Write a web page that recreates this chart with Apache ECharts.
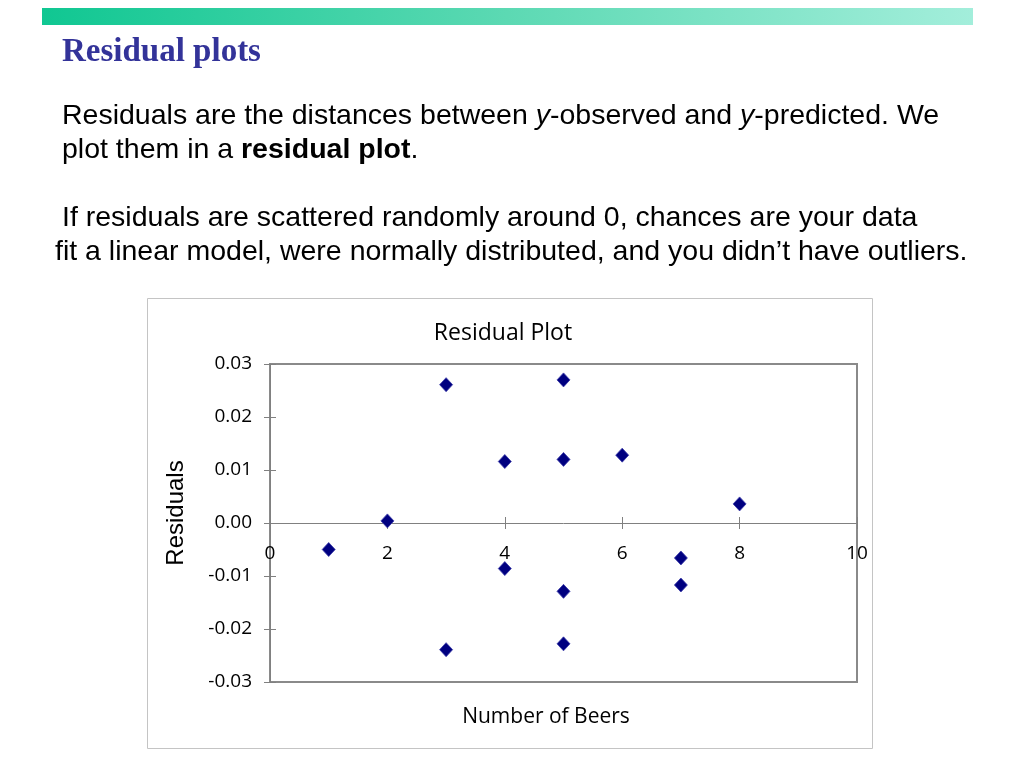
<!DOCTYPE html>
<html><head><meta charset="utf-8">
<script src="https://cdn.jsdelivr.net/npm/echarts@6/dist/echarts.min.js"></script>
<style>html,body{margin:0;padding:0;background:#fff}#c{width:1024px;height:768px}</style>
</head><body><div id="c"></div>
<script>
// Data
const beers = [1, 2, 3, 3, 4, 4, 5, 5, 5, 5, 6, 7, 7, 8];
const residuals = [-0.0050, 0.0004, 0.0261, -0.0239, 0.0116, -0.0086, 0.0270, 0.0120, -0.0129, -0.0228, 0.0128, -0.0066, -0.0117, 0.0036];
const xRange = [0, 10, 2];      // min, max, interval
const yRange = [-0.03, 0.03, 0.01];

const slideTitle = 'Residual plots';
const chartTitle = 'Residual Plot';
const xName = 'Number of Beers';
const yName = 'Residuals';

const points = beers.map((b, i) => [b, residuals[i]]);

const chart = echarts.init(document.getElementById('c'), null, {renderer: 'canvas'});
const bodyFont = 'Liberation Sans, Arial, sans-serif';
const axisFont = 'Open Sans, sans-serif';
const gray = '#808080';
const bodySize = 28.5;

// plot area layout (pixels)
const G = {left: 270, right: 167, top: 364, bottom: 86};
const plotH = 768 - G.top - G.bottom;
const plotW = 1024 - G.left - G.right;
const zeroShift = -plotH * (0 - yRange[0]) / (yRange[1] - yRange[0]); // move bottom axis up to y = 0

const option = {
  animation: false,
  backgroundColor: '#fff',
  grid: Object.assign({show: true, borderColor: '#8a8a8a', borderWidth: 2, backgroundColor: 'transparent'}, G),
  xAxis: [
    {
      type: 'value', position: 'bottom', offset: zeroShift, min: xRange[0], max: xRange[1], interval: xRange[2],
      axisLine: {show: true, onZero: false, lineStyle: {color: gray, width: 1}},
      axisTick: {show: true, inside: false, length: 6, lineStyle: {color: gray}},
      axisLabel: {show: true, margin: 21, color: '#000', fontFamily: axisFont, fontSize: 19},
      splitLine: {show: false}
    },
    {
      type: 'value', position: 'top', offset: -(plotH + zeroShift), min: xRange[0], max: xRange[1], interval: xRange[2],
      axisLine: {show: false, onZero: false},
      axisTick: {show: true, inside: false, length: 6, lineStyle: {color: gray}},
      axisLabel: {show: false},
      splitLine: {show: false}
    }
  ],
  yAxis: [
    {
      type: 'value', position: 'left', min: yRange[0], max: yRange[1], interval: yRange[2],
      axisLine: {show: true, onZero: false, lineStyle: {color: gray, width: 1}},
      axisTick: {show: true, inside: false, length: 6, lineStyle: {color: gray}},
      axisLabel: {show: true, margin: 18, color: '#000', fontFamily: axisFont, fontSize: 19,
        formatter: v => v.toFixed(2)},
      splitLine: {show: false}
    },
    {
      type: 'value', position: 'right', offset: -plotW, min: yRange[0], max: yRange[1], interval: yRange[2],
      axisLine: {show: false, onZero: false},
      axisTick: {show: true, inside: false, length: 6, lineStyle: {color: gray}},
      axisLabel: {show: false},
      splitLine: {show: false}
    }
  ],
  series: [{
    type: 'scatter', xAxisIndex: 0, yAxisIndex: 0,
    data: points,
    symbol: 'diamond', symbolSize: [13, 14],
    itemStyle: {color: '#000080', borderColor: '#3a3aa8', borderWidth: 0.8, opacity: 1}
  }],
  graphic: [
    {type: 'rect', silent: true, shape: {x: 42, y: 8, width: 931, height: 17},
      style: {fill: new echarts.graphic.LinearGradient(0, 0, 1, 0, [
        {offset: 0, color: '#10c792'}, {offset: 0.5, color: '#5cd9b3'}, {offset: 1, color: '#a3eedb'}])}},
    {type: 'text', silent: true, x: 62, y: 52,
      style: {text: slideTitle, font: 'bold 33px "Liberation Serif", "Times New Roman", serif', fill: '#333399', textVerticalAlign: 'middle'}},
    {type: 'text', silent: true, x: 62, y: 116,
      style: {text: '{n|Residuals are the distances between }{i|y}{n|-observed and }{i|y}{n|-predicted. We}',
        textVerticalAlign: 'middle', fill: '#000', font: bodySize + 'px ' + bodyFont,
        rich: {n: {fontSize: bodySize, fontFamily: bodyFont, fill: '#000'}, i: {fontSize: bodySize, fontFamily: bodyFont, fontStyle: 'italic', fill: '#000'}}}},
    {type: 'text', silent: true, x: 62, y: 150,
      style: {text: '{n|plot them in a }{b|residual plot}{n|.}',
        textVerticalAlign: 'middle', fill: '#000', font: bodySize + 'px ' + bodyFont,
        rich: {n: {fontSize: bodySize, fontFamily: bodyFont, fill: '#000'}, b: {fontSize: bodySize, fontFamily: bodyFont, fontWeight: 'bold', fill: '#000'}}}},
    {type: 'text', silent: true, x: 62, y: 218,
      style: {text: 'If residuals are scattered randomly around 0, chances are your data',
        textVerticalAlign: 'middle', fill: '#000', font: bodySize + 'px ' + bodyFont}},
    {type: 'text', silent: true, x: 55, y: 252,
      style: {text: 'fit a linear model, were normally distributed, and you didn\u2019t have outliers.',
        textVerticalAlign: 'middle', fill: '#000', font: bodySize + 'px ' + bodyFont}},
    {type: 'rect', silent: true, shape: {x: 147.5, y: 298.5, width: 725, height: 450},
      style: {fill: 'none', stroke: '#c4c4c4', lineWidth: 1}},
    {type: 'text', silent: true, x: 503, y: 333,
      style: {text: chartTitle, font: '23px ' + axisFont, fill: '#000', textAlign: 'center', textVerticalAlign: 'middle'}},
    {type: 'text', silent: true, x: 546, y: 717,
      style: {text: xName, font: '21px ' + axisFont, fill: '#000', textAlign: 'center', textVerticalAlign: 'middle'}},
    {type: 'text', silent: true, x: 176, y: 513, rotation: Math.PI / 2,
      style: {text: yName, font: '24px ' + bodyFont, fill: '#000', textAlign: 'center', textVerticalAlign: 'middle'}}
  ]
};
chart.setOption(option);
</script>
</body></html>
